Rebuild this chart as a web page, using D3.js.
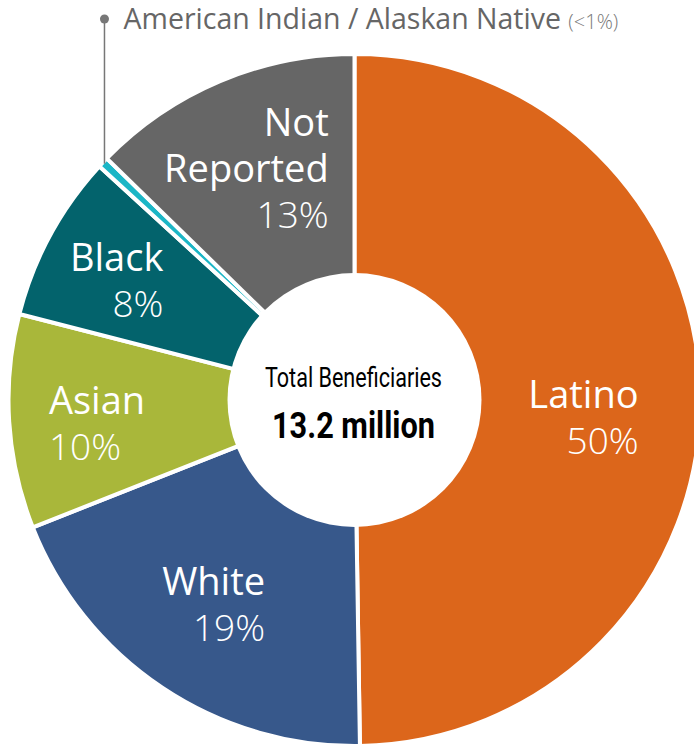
<!DOCTYPE html>
<html>
<head>
<meta charset="utf-8">
<script src="https://cdn.jsdelivr.net/npm/d3@7"></script>
<style>
  body { margin: 0; background: #fff; }
  svg { display: block; }
  .name { font-family: "Open Sans", sans-serif; font-size: 38px; fill: #fff; }
  .pct { font-family: "Open Sans", sans-serif; font-weight: 300; font-size: 37px; fill: #fff; }
  .note { font-family: "Open Sans", sans-serif; font-size: 28.5px; fill: #666; }
  .note-small { font-family: "Open Sans", sans-serif; font-weight: 300; font-size: 20px; fill: #777; }
  .center-a { font-family: "Liberation Sans Narrow", "Roboto", sans-serif; font-size: 27px; fill: #000; }
  .center-b { font-family: "Liberation Sans Narrow", "Roboto", sans-serif; font-weight: bold; font-size: 36px; fill: #000; }
</style>
</head>
<body>
<div id="chart"></div>
<script>
// data, clockwise from 12 o'clock
var categories = ["Latino", "White", "Asian", "Black", "American Indian / Alaskan Native", "Not Reported"];
var shares = [49.75, 19.25, 10.0, 7.8, 0.5, 12.7];
var pct_labels = ["50%", "19%", "10%", "8%", "<1%", "13%"];
var colors = ["#dc661b", "#37588b", "#a9b73a", "#03636c", "#1cb6c6", "#666666"];
var total_label = "Total Beneficiaries";
var total_value = "13.2 million";

var width = 694, height = 746;
var cx = 354.5, cy = 400,
	outer_r = 346,
	inner_r = 127,
	label_r = 250,
	line_h = 46,
	cap_h = 27;

// label nudges and alignment (layout only)
var label_layout = {
	"Latino": { lines: ["Latino"], anchor: "end", dx: -21, dy: 19 },
	"White": { lines: ["White"], anchor: "end", dx: -2, dy: -3 },
	"Asian": { lines: ["Asian"], anchor: "start", dx: -8, dy: 8 },
	"Black": { lines: ["Black"], anchor: "end", dx: -18, dy: 0 },
	"Not Reported": { lines: ["Not", "Reported"], anchor: "end", dx: -11, dy: -1 }
};

var data = categories.map(function(c, i){
	return { name: c, value: shares[i], pct: pct_labels[i], color: colors[i] };
});

var svg = d3.select("#chart").append("svg")
		.attr("width", width)
		.attr("height", height);

var g = svg.append("g")
		.attr("transform", "translate(" + cx + "," + cy + ")");

var pie = d3.pie()
		.sort(null)
		.value(function(d){ return d.value; });

var arc = d3.arc()
		.innerRadius(0)
		.outerRadius(outer_r);

var label_arc = d3.arc()
		.innerRadius(label_r)
		.outerRadius(label_r);

var arcs = pie(data);

// the slices
g.selectAll(".slice")
		.data(arcs)
	.enter().append("path")
		.attr("class", "slice")
		.attr("d", arc)
		.attr("fill", function(d){ return d.data.color; })
		.attr("stroke", "#fff")
		.attr("stroke-width", 4)
		.attr("stroke-linejoin", "miter");

// the hole
g.append("circle")
		.attr("r", inner_r)
		.attr("fill", "#fff");

// slice labels
arcs.forEach(function(d){
	var lay = label_layout[d.data.name];
	if (!lay) return;
	var c = label_arc.centroid(d);
	var lines = lay.lines.map(function(t){ return { text: t, cls: "name" }; })
			.concat([{ text: d.data.pct, cls: "pct" }]);

	var block = g.append("g");
	var texts = block.selectAll("text")
			.data(lines)
		.enter().append("text")
			.attr("class", function(l){ return l.cls; })
			.attr("text-anchor", lay.anchor)
			.text(function(l){ return l.text; });

	var max_w = d3.max(texts.nodes(), function(n){ return n.getComputedTextLength(); });
	var bx = c[0] + lay.dx, by = c[1] + lay.dy;
	var x = lay.anchor == "end" ? bx + max_w / 2 : bx - max_w / 2;
	var block_h = cap_h + (lines.length - 1) * line_h;
	var y0 = by - block_h / 2 + cap_h;

	texts.attr("x", x)
		.attr("y", function(l, i){ return y0 + i * line_h; });
});

// center text
g.append("text")
		.attr("class", "center-a")
		.attr("text-anchor", "middle")
		.attr("x", -1)
		.attr("y", -13)
		.attr("textLength", 177)
		.attr("lengthAdjust", "spacingAndGlyphs")
		.text(total_label);

g.append("text")
		.attr("class", "center-b")
		.attr("text-anchor", "middle")
		.attr("x", -1)
		.attr("y", 38)
		.attr("textLength", 163)
		.attr("lengthAdjust", "spacingAndGlyphs")
		.text(total_value);

// the small-slice callout
var small = arcs[4];
var mid = (small.startAngle + small.endAngle) / 2;
var tip = [Math.sin(mid) * (outer_r - 2), -Math.cos(mid) * (outer_r - 2)];
var dot_y = 19 - cy;

g.append("line")
		.attr("x1", tip[0])
		.attr("x2", tip[0])
		.attr("y1", dot_y)
		.attr("y2", tip[1])
		.attr("stroke", "#777")
		.attr("stroke-width", 1.5);

g.append("circle")
		.attr("cx", tip[0])
		.attr("cy", dot_y)
		.attr("r", 4.5)
		.attr("fill", "#777");

var note = g.append("text")
		.attr("class", "note")
		.attr("x", tip[0] + 19)
		.attr("y", dot_y + 10);

note.append("tspan")
		.text(small.data.name + " ");

note.append("tspan")
		.attr("class", "note-small")
		.text("(" + small.data.pct + ")");
</script>
</body>
</html>
